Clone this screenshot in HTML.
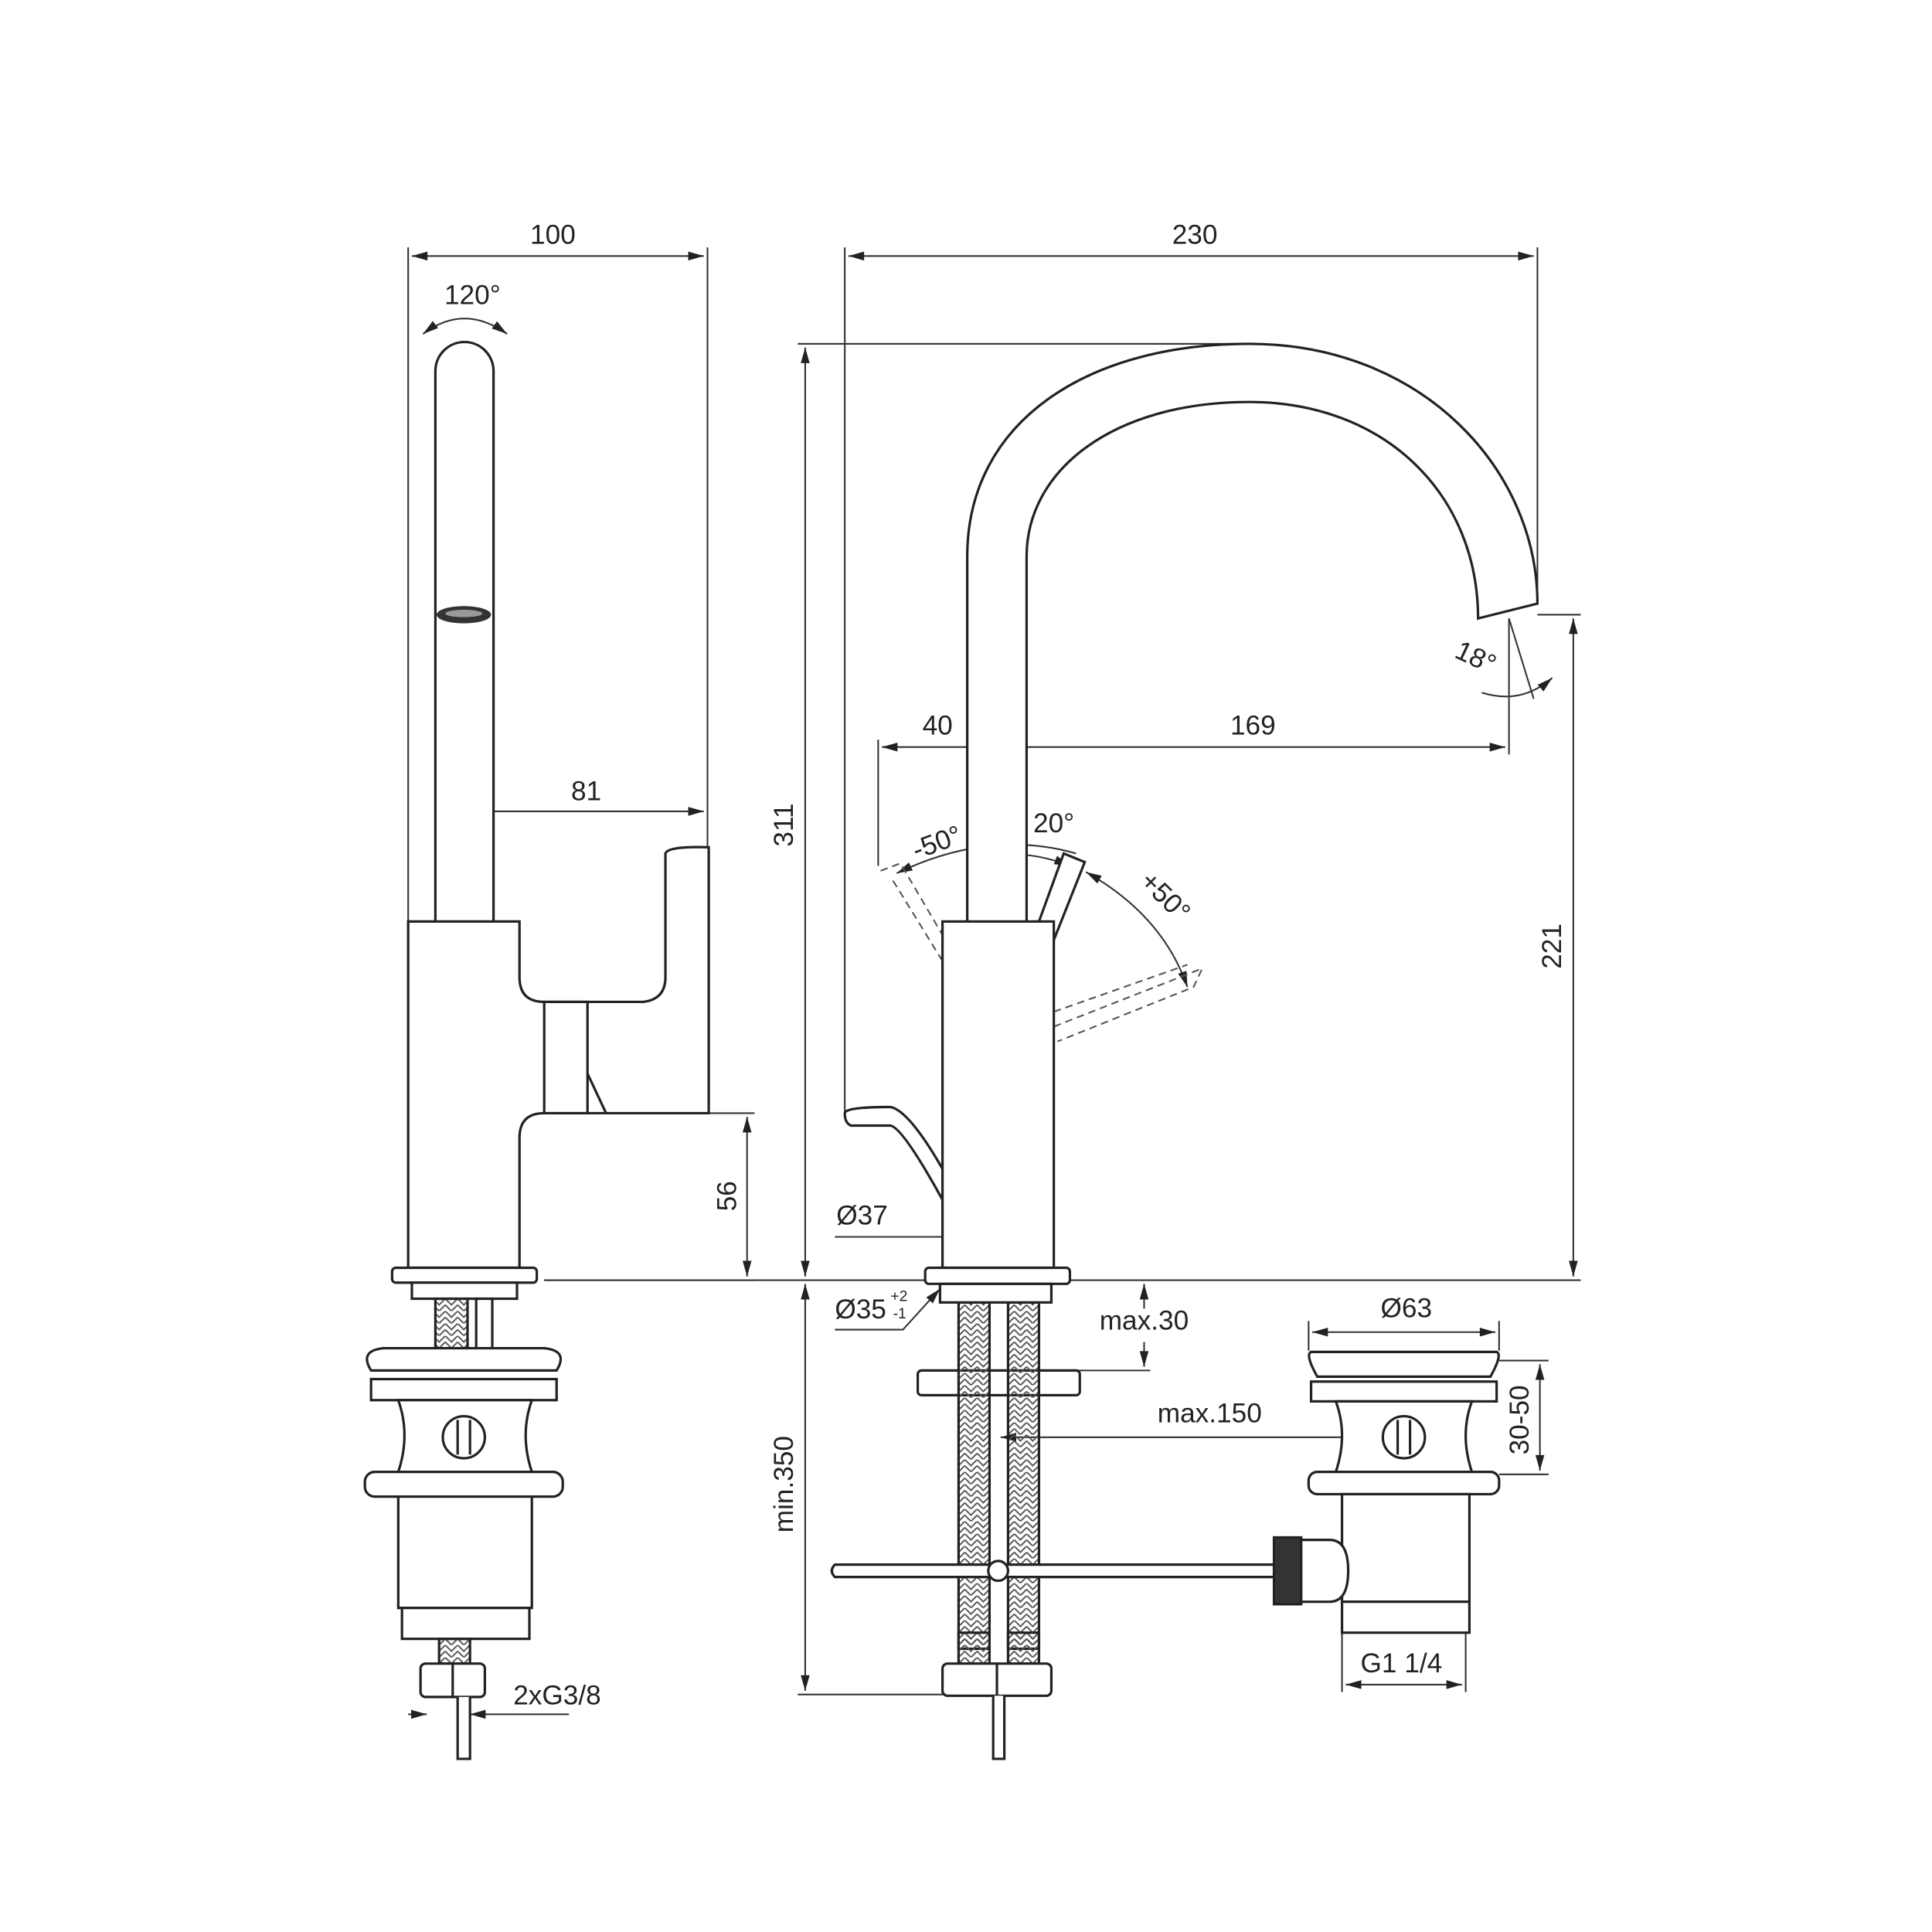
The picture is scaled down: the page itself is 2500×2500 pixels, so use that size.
<!DOCTYPE html>
<html><head><meta charset="utf-8"><style>
html,body{margin:0;padding:0;background:#fff;width:2500px;height:2500px;overflow:hidden}
svg{display:block}
text{font-family:"Liberation Sans",sans-serif;font-size:22px;fill:#222}
</style></head><body>
<svg width="2500" height="2500" viewBox="0 0 1562 1562" xmlns="http://www.w3.org/2000/svg">
<defs>
<marker id="a" viewBox="0 0 14 10" refX="14" refY="5" markerWidth="14" markerHeight="9" orient="auto-start-reverse" markerUnits="userSpaceOnUse"><path d="M0,1 L14,5 L0,9 Z" fill="#222"/></marker>
<pattern id="h" width="10" height="10" patternUnits="userSpaceOnUse"><path d="M0,0 L5,5 L10,0 M0,5 L5,10 L10,5" stroke="#555" stroke-width="1.2" fill="none"/></pattern>
</defs>
<g fill="none" stroke="#333" stroke-width="1.3">
<line x1="330" y1="200" x2="330" y2="745"/><line x1="572" y1="200" x2="572" y2="686"/>
<line x1="333" y1="207" x2="569" y2="207" marker-start="url(#a)" marker-end="url(#a)"/>
<path d="M342 270 Q375 245 410 270" marker-start="url(#a)" marker-end="url(#a)"/>
<line x1="375" y1="650" x2="375" y2="745"/>
<line x1="378" y1="656" x2="569" y2="656" marker-start="url(#a)" marker-end="url(#a)"/>
<line x1="573" y1="900" x2="610" y2="900"/><line x1="440" y1="1035" x2="610" y2="1035"/>
<line x1="604" y1="903" x2="604" y2="1032" marker-start="url(#a)" marker-end="url(#a)"/>
<line x1="330" y1="1386" x2="345" y2="1386" marker-end="url(#a)"/>
<line x1="460" y1="1386" x2="380" y2="1386" marker-end="url(#a)"/>
</g>
<g fill="#fff" stroke="#222" stroke-width="2">
<path d="M352 745 L352 300 A23.5 23.5 0 0 1 399 300 L399 745"/>
<path d="M330 745 L420 745 L420 790 Q420 810 440 810 L520 810 Q538 808 538 790 L538 690 Q540 684 573 685 L573 900 L440 900 Q420 900 420 920 L420 1025 L330 1025 Z"/>
<rect x="440" y="810" width="35" height="90"/>
<line x1="475" y1="868" x2="490" y2="900"/>
<rect x="317" y="1025" width="117" height="12" rx="3"/>
<rect x="333" y="1037" width="85" height="13"/>
<rect x="352" y="1050" width="26" height="45" fill="url(#h)"/>
<rect x="385" y="1050" width="13" height="45"/>
<path d="M300 1108 Q290 1092 310 1090 L440 1090 Q460 1092 450 1108 Z"/>
<rect x="300" y="1115" width="150" height="17"/>
<path d="M322 1132 L430 1132 Q420 1160 430 1190 L322 1190 Q332 1160 322 1132 Z"/>
<rect x="358" y="1145" width="34" height="34" rx="17"/>
<line x1="370" y1="1148" x2="370" y2="1176"/><line x1="380" y1="1148" x2="380" y2="1176"/>
<rect x="295" y="1190" width="160" height="20" rx="8"/>
<rect x="322" y="1210" width="108" height="90"/>
<rect x="325" y="1300" width="103" height="25"/>
<rect x="355" y="1325" width="25" height="20" fill="url(#h)"/>
<rect x="340" y="1345" width="52" height="27" rx="4"/>
<line x1="366" y1="1345" x2="366" y2="1372"/>
<path d="M370 1372 L370 1422 L380 1422 L380 1372"/>
</g>
<ellipse cx="375" cy="497" rx="22" ry="7" fill="#333"/>
<ellipse cx="375" cy="496" rx="15" ry="3" fill="#999"/>
<text x="447" y="197" text-anchor="middle">100</text>
<text x="382" y="246" text-anchor="middle">120°</text>
<text x="474" y="647" text-anchor="middle">81</text>
<text transform="translate(595,967) rotate(-90)" text-anchor="middle">56</text>
<text x="415" y="1378">2xG3/8</text>

<g fill="none" stroke="#333" stroke-width="1.3">
<line x1="683" y1="200" x2="683" y2="900"/><line x1="1243" y1="200" x2="1243" y2="488"/>
<line x1="686" y1="207" x2="1240" y2="207" marker-start="url(#a)" marker-end="url(#a)"/>
<line x1="645" y1="278" x2="1010" y2="278"/>
<line x1="651" y1="281" x2="651" y2="1032" marker-start="url(#a)" marker-end="url(#a)"/>
<line x1="651" y1="1038" x2="651" y2="1367" marker-start="url(#a)" marker-end="url(#a)"/>
<line x1="645" y1="1370" x2="765" y2="1370"/>
<line x1="440" y1="1035" x2="1278" y2="1035"/>
<line x1="1243" y1="497" x2="1278" y2="497"/>
<line x1="1272" y1="500" x2="1272" y2="1032" marker-start="url(#a)" marker-end="url(#a)"/>
<line x1="806" y1="598" x2="806" y2="745"/>
<line x1="710" y1="598" x2="710" y2="700"/><line x1="1220" y1="500" x2="1220" y2="610"/>
<line x1="713" y1="604" x2="803" y2="604" marker-start="url(#a)" marker-end="url(#a)"/>
<line x1="809" y1="604" x2="1217" y2="604" marker-start="url(#a)" marker-end="url(#a)"/>
<line x1="1220" y1="500" x2="1240" y2="565"/>
<path d="M1198 560 Q1230 570 1255 548" marker-end="url(#a)"/>
<path d="M725 706 Q800 670 870 690" marker-start="url(#a)"/>
<path d="M810 690 Q840 690 865 700" marker-start="url(#a)" marker-end="url(#a)"/>
<path d="M878 705 Q940 740 960 798" marker-start="url(#a)" marker-end="url(#a)"/>
<line x1="675" y1="1000" x2="762" y2="1000"/>
<line x1="765" y1="1000" x2="849" y2="1000" marker-start="url(#a)" marker-end="url(#a)"/>
<path d="M675 1075 L730 1075 L760 1042" marker-end="url(#a)"/>
<line x1="925" y1="1058" x2="925" y2="1038" marker-end="url(#a)"/>
<line x1="925" y1="1085" x2="925" y2="1105" marker-end="url(#a)"/>
<line x1="870" y1="1108" x2="930" y2="1108"/>
<line x1="1120" y1="1162" x2="809" y2="1162" marker-end="url(#a)"/>
<line x1="1058" y1="1068" x2="1058" y2="1092"/><line x1="1212" y1="1068" x2="1212" y2="1092"/>
<line x1="1061" y1="1077" x2="1209" y2="1077" marker-start="url(#a)" marker-end="url(#a)"/>
<line x1="1212" y1="1100" x2="1252" y2="1100"/><line x1="1212" y1="1192" x2="1252" y2="1192"/>
<line x1="1245" y1="1103" x2="1245" y2="1189" marker-start="url(#a)" marker-end="url(#a)"/>
<line x1="1085" y1="1320" x2="1085" y2="1368"/><line x1="1185" y1="1320" x2="1185" y2="1368"/>
<line x1="1088" y1="1362" x2="1182" y2="1362" marker-start="url(#a)" marker-end="url(#a)"/>
</g>
<g fill="none" stroke="#555" stroke-width="1.3" stroke-dasharray="6 4">
<path d="M712 704 L728 698 L782 790 M722 712 L770 790"/>
<path d="M852 830 L972 783 L965 798 L855 842 M852 818 L960 780"/>
</g>
<g fill="#fff" stroke="#222" stroke-width="2">
<path d="M782 745 L782 450 C782 340 880 278 1010 278 C1150 278 1243 380 1243 488 L1195 500 C1195 400 1120 325 1010 325 C900 325 830 380 830 450 L830 745"/>
<path d="M840 745 L860 690 L877 697 L852 760"/>
<path d="M683 900 Q683 895 720 895 Q735 898 762 945 L762 970 Q730 912 720 910 L688 910 Q683 908 683 900 Z"/>
<rect x="762" y="745" width="90" height="280"/>
<rect x="742" y="1108" width="131" height="20" rx="3"/>
<rect x="775" y="1053" width="25" height="280" fill="url(#h)"/>
<rect x="815" y="1053" width="25" height="280" fill="url(#h)"/>
<rect x="748" y="1025" width="117" height="13" rx="3"/>
<rect x="760" y="1038" width="90" height="15"/>
<path d="M675 1265 L1030 1265 L1030 1275 L675 1275 Q670 1270 675 1265 Z"/>
<circle cx="807" cy="1270" r="8"/>
<rect x="775" y="1320" width="25" height="25" fill="url(#h)"/><rect x="815" y="1320" width="25" height="25" fill="url(#h)"/>
<rect x="762" y="1345" width="88" height="26" rx="4"/>
<line x1="806" y1="1345" x2="806" y2="1371"/>
<path d="M803 1371 L803 1422 L812 1422 L812 1371"/>
<path d="M1065 1113 Q1055 1095 1060 1093 L1210 1093 Q1215 1095 1205 1113 Z"/>
<rect x="1060" y="1117" width="150" height="16"/>
<path d="M1080 1133 L1190 1133 Q1180 1160 1190 1190 L1080 1190 Q1090 1160 1080 1133 Z"/>
<rect x="1118" y="1145" width="34" height="34" rx="17"/>
<line x1="1130" y1="1148" x2="1130" y2="1176"/><line x1="1140" y1="1148" x2="1140" y2="1176"/>
<rect x="1058" y="1190" width="154" height="18" rx="7"/>
<rect x="1085" y="1208" width="103" height="87"/>
<rect x="1085" y="1295" width="103" height="25"/>
<path d="M1050 1245 L1075 1245 Q1090 1245 1090 1270 Q1090 1295 1075 1295 L1050 1295 Z"/>
<rect x="1030" y="1243" width="22" height="54" fill="#333"/>
</g>
<text x="966" y="197" text-anchor="middle">230</text>
<text transform="translate(641,667) rotate(-90)" text-anchor="middle">311</text>
<text transform="translate(1262,765) rotate(-90)" text-anchor="middle">221</text>
<text transform="translate(641,1200) rotate(-90)" text-anchor="middle">min.350</text>
<text x="758" y="594" text-anchor="middle">40</text>
<text x="1013" y="594" text-anchor="middle">169</text>
<text transform="translate(1190,538) rotate(25)" text-anchor="middle">18°</text>
<text transform="translate(760,688) rotate(-20)" text-anchor="middle">-50°</text>
<text x="852" y="673" text-anchor="middle">20°</text>
<text transform="translate(937,730) rotate(45)" text-anchor="middle">+50°</text>
<text x="697" y="990" text-anchor="middle">Ø37</text>
<text x="675" y="1066">Ø35</text><text x="720" y="1052" style="font-size:12px">+2</text><text x="722" y="1066" style="font-size:12px">-1</text>
<text x="925" y="1075" text-anchor="middle">max.30</text>
<text x="978" y="1150" text-anchor="middle">max.150</text>
<text x="1137" y="1065" text-anchor="middle">Ø63</text>
<text transform="translate(1236,1148) rotate(-90)" text-anchor="middle">30-50</text>
<text x="1133" y="1352" text-anchor="middle">G1 1/4</text>
</svg>
</body></html>
